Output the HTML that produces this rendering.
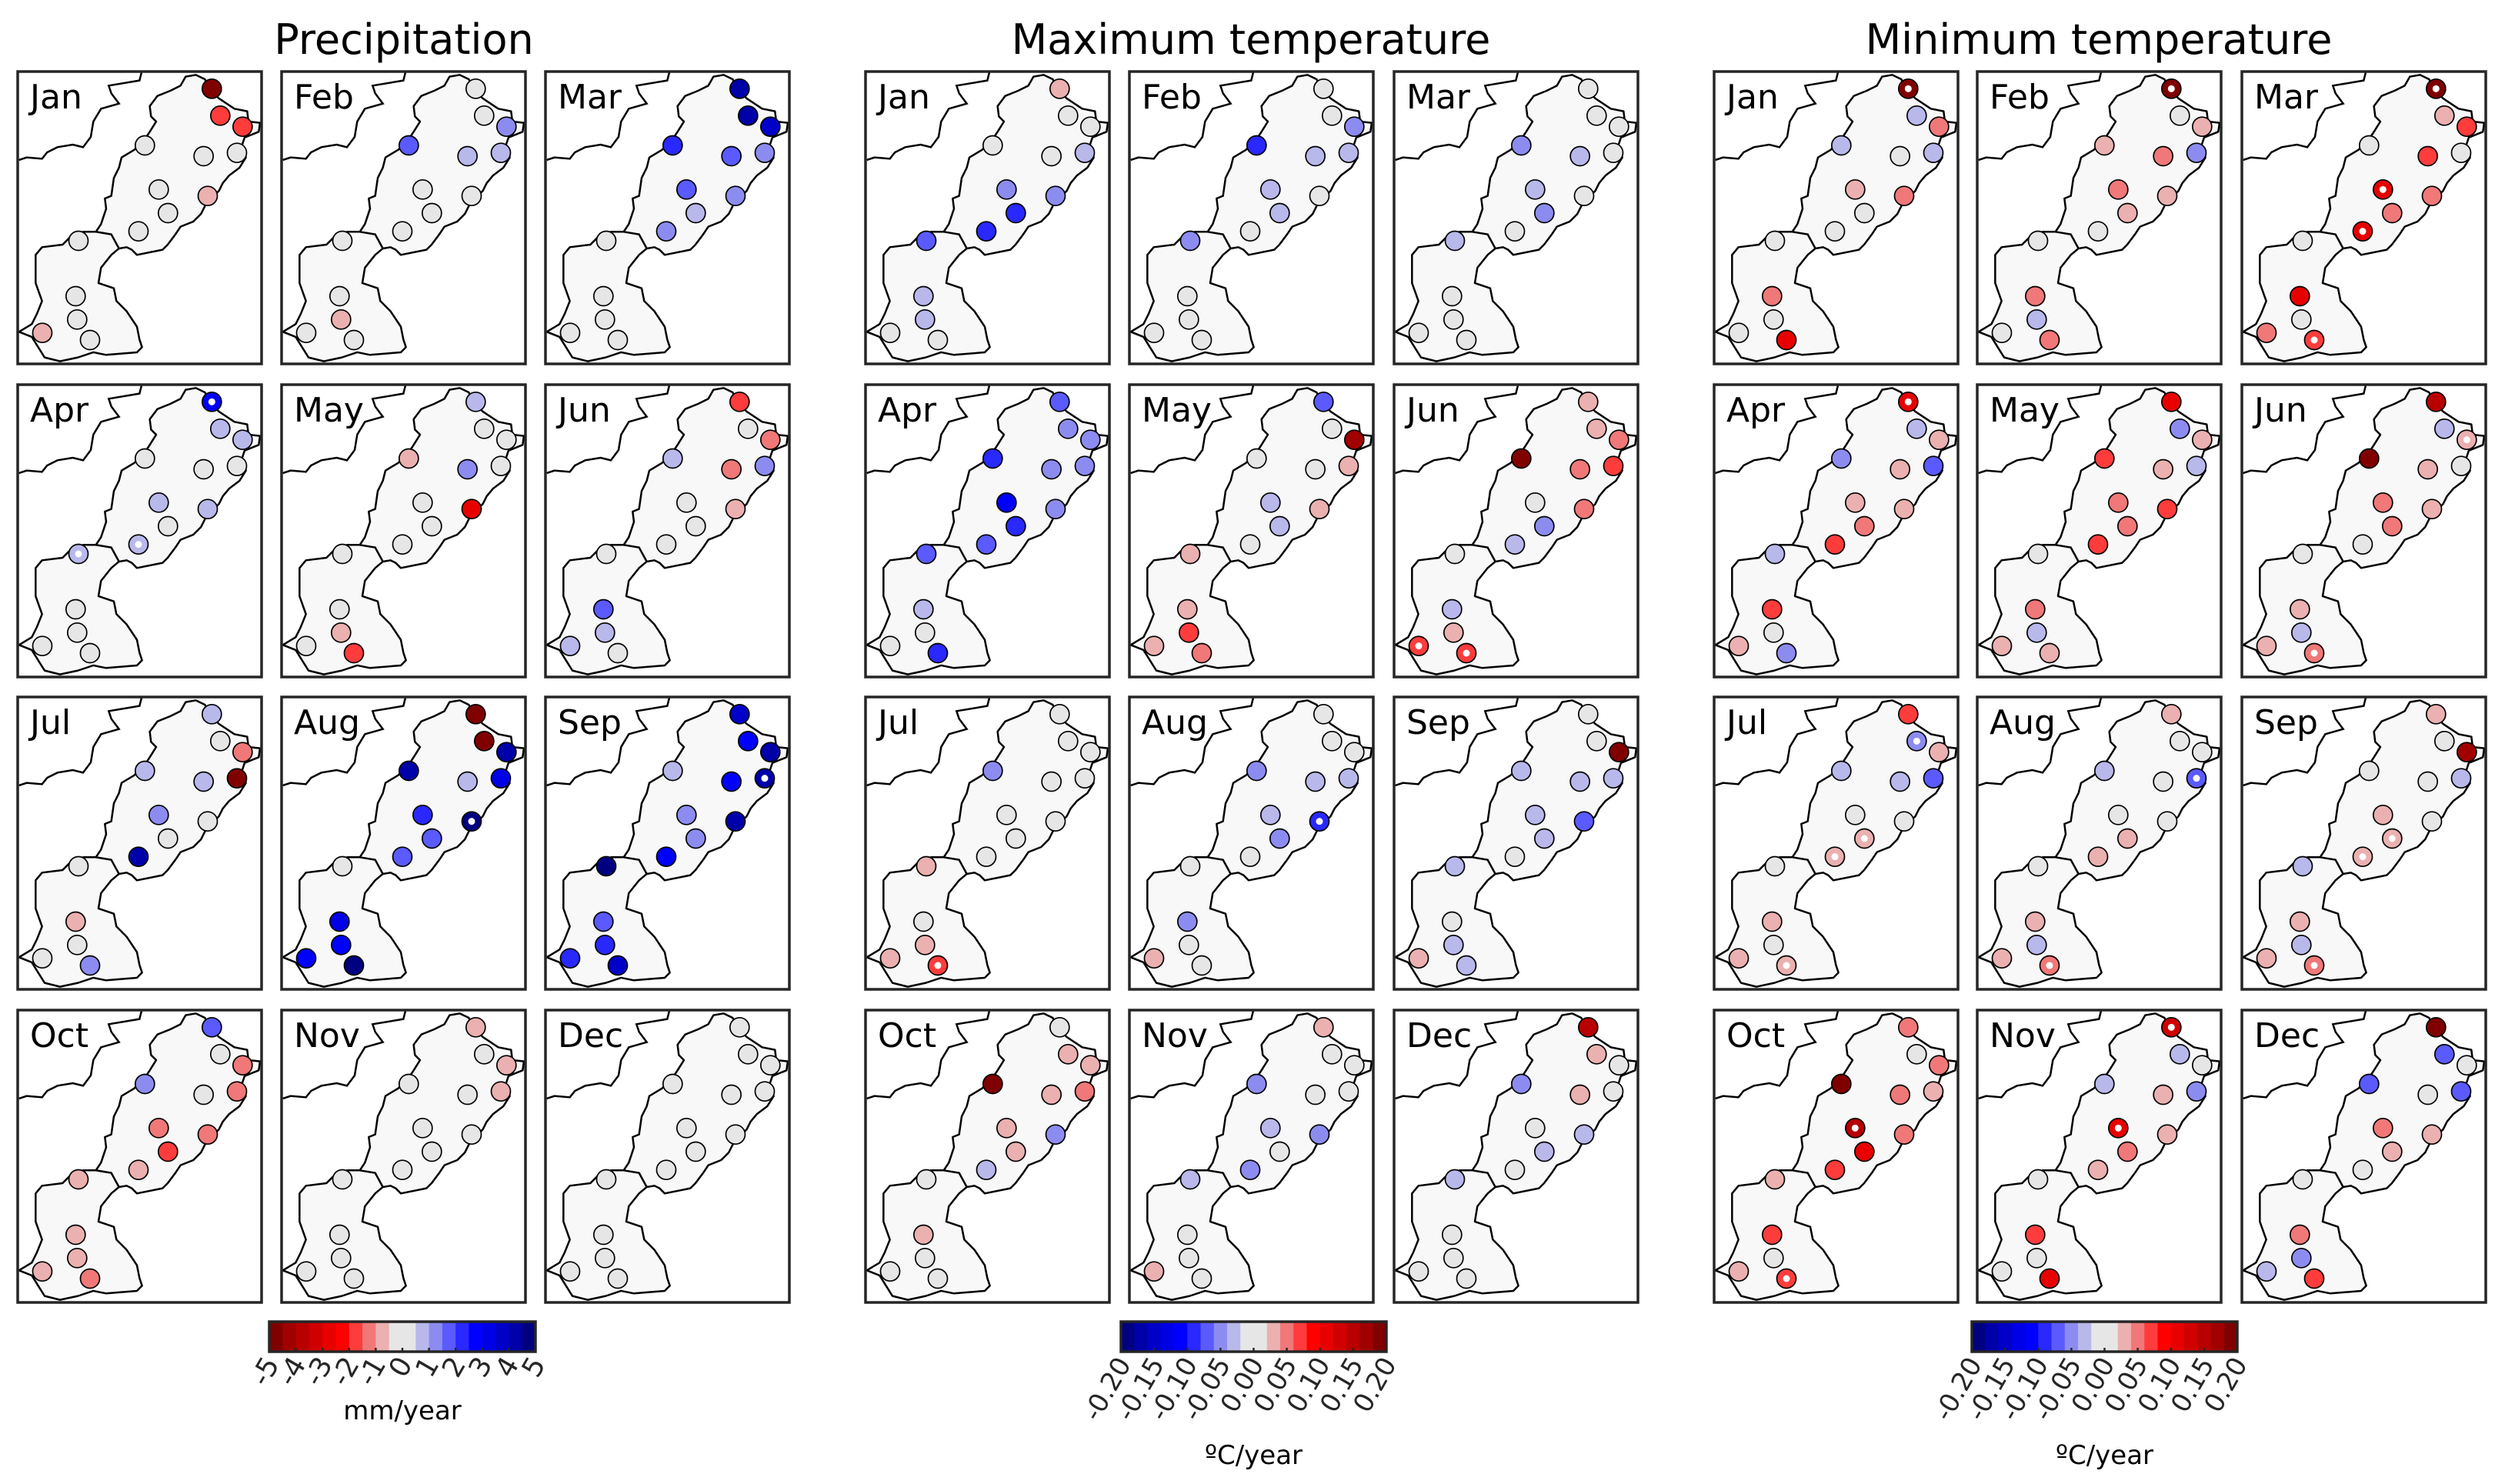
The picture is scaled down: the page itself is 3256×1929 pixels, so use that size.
<!DOCTYPE html>
<html><head><meta charset="utf-8">
<style>
html,body{margin:0;padding:0;background:#fff;}
svg{display:block;font-family:"DejaVu Sans","Liberation Sans",sans-serif;}
</style></head>
<body>
<svg id="fig" width="3256" height="1929" viewBox="0 0 3256 1929" xmlns="http://www.w3.org/2000/svg">
<defs>
<clipPath id="pclip"><rect x="0" y="0" width="317" height="380"/></clipPath>
</defs>
<g id="root"></g>
</svg>
<script>
// ---- data ----
const months = ['Jan','Feb','Mar','Apr','May','Jun','Jul','Aug','Sep','Oct','Nov','Dec'];
const variables = ['Precipitation','Maximum temperature','Minimum temperature'];
const precipTicks = ['-5','-4','-3','-2','-1','0','1','2','3','4','5'];
const precipTickValues = [-5,-4,-3,-2,-1,0,1,2,3,4,5];
const tempTicks = ['-0.20','-0.15','-0.10','-0.05','0.00','0.05','0.10','0.15','0.20'];
const tempTickValues = [-0.2,-0.15,-0.1,-0.05,0,0.05,0.1,0.15,0.2];

// station trend values (15 stations per month) - precipitation mm/year
const precipJan = [-4.75,-1.75,-1.75,0,0,0,0,-0.75,0,0,0,0,0,-0.75,0];
const precipFeb = [0,0,1.25,1.75,0.75,0.75,0,0,0,0,0,0,-0.75,0,0];
const precipMar = [4.25,4.25,3.75,2.25,1.75,1.25,1.75,1.25,0.75,1.25,0,0,0,0,0];
const precipApr = [2.75,0.75,0.75,0,0,0,0.75,0.75,0,0.75,0.75,0,0,0,0];
const precipMay = [0.75,0,0,-0.75,1.25,0,0,-2.75,0,0,0,0,-0.75,0,-1.75];
const precipJun = [-1.75,0,-1.25,0.75,-1.25,1.25,0,-0.75,0,0,0,1.75,0.75,0.75,0];
const precipJul = [0.75,0,-1.25,0.75,0.75,-4.75,1.25,0,0,4.25,0,-0.75,0,0,1.25];
const precipAug = [-4.75,-4.75,4.25,4.25,0.75,3.25,2.25,4.75,1.75,1.75,0,3.25,2.75,2.75,4.75];
const precipSep = [3.75,2.75,4.25,0.75,2.75,4.25,1.25,4.25,1.25,2.75,4.75,1.75,2.25,2.25,3.75];
const precipOct = [1.75,0,-1.25,1.25,0,-1.25,-1.25,-1.25,-1.75,-0.75,-0.75,-0.75,-0.75,-0.75,-1.25];
const precipNov = [-0.75,0,-0.75,0,0,-0.75,0,0,0,0,0,0,0,0,0];
const precipDec = [0,0,0,0,0,0,0,0,0,0,0,0,0,0,0];
const precipSig = [[],[],[],[0,9,10],[],[],[],[7],[5],[],[],[]];

// maximum temperature degC/year
const tmaxJan = [0.03,0,0,0,0,-0.03,-0.05,-0.05,-0.09,-0.09,-0.07,-0.03,-0.03,0,0];
const tmaxFeb = [0,0,-0.05,-0.09,-0.03,-0.03,-0.03,0,-0.03,0,-0.05,0,0,0,0];
const tmaxMar = [0,0,0,-0.05,-0.03,0,-0.03,0,-0.05,0,-0.03,0,0,0,0];
const tmaxApr = [-0.07,-0.05,-0.05,-0.09,-0.05,-0.05,-0.11,-0.05,-0.09,-0.07,-0.07,-0.03,0,0,-0.09];
const tmaxMay = [-0.07,0,0.17,0,0,0.03,-0.03,0.03,-0.03,0,0.03,0.03,0.07,0.03,0.05];
const tmaxJun = [0.03,0.03,0.05,0.19,0.05,0.07,0,0.05,-0.05,-0.03,0,-0.03,0.03,0.07,0.07];
const tmaxJul = [0,0,0,-0.05,0,0,0,0,0,0,0.03,0,0.03,0.03,0.07];
const tmaxAug = [0,0,0,-0.05,-0.03,-0.03,-0.03,-0.09,-0.05,0,0,-0.05,0,0.03,0];
const tmaxSep = [0,0,0.19,-0.03,-0.03,-0.03,-0.03,-0.07,-0.03,0,-0.03,0,-0.03,0.03,-0.03];
const tmaxOct = [0,0.03,0.03,0.19,0.03,0.05,0.03,-0.05,0.03,-0.03,0,0.03,0,0,0];
const tmaxNov = [0.03,0,0,-0.05,0,0,-0.03,-0.05,0,-0.05,-0.03,0,0,0.03,0];
const tmaxDec = [0.15,0.03,0,-0.05,0.03,0,0,-0.03,-0.03,0,-0.03,0,0,0,0];
const tmaxSig = [[],[],[],[],[],[13,14],[14],[7],[],[],[],[]];

// minimum temperature degC/year
const tminJan = [0.19,-0.03,0.05,-0.03,0,-0.03,0.03,0.05,0,0,0,0.05,0,0,0.11];
const tminFeb = [0.19,0,0.03,0.03,0.05,-0.05,0.05,0.03,0.03,0,0,0.05,-0.03,0,0.05];
const tminMar = [0.19,0.03,0.07,0,0.07,0,0.11,0.05,0.05,0.11,0,0.11,0,0.05,0.07];
const tminApr = [0.11,-0.03,0.03,-0.05,0.03,-0.07,0.03,0.03,0.05,0.07,-0.03,0.07,0,0.03,-0.05];
const tminMay = [0.11,-0.05,0.03,0.07,0.03,-0.03,0.05,0.07,0.05,0.07,0,0.05,-0.03,0.03,0.03];
const tminJun = [0.15,-0.03,0.03,0.19,0.03,0,0.05,0.03,0.05,0,0,0.03,-0.03,0.03,0.05];
const tminJul = [0.07,-0.05,0.03,-0.03,-0.03,-0.07,0,0,0.03,0.03,0,0.03,0,0.03,0.03];
const tminAug = [0.03,0,0,-0.03,0,-0.07,0,0,0.03,0.03,0,0.03,-0.03,0.03,0.05];
const tminSep = [0.03,0,0.17,0,0,-0.03,0.03,0,0.03,0.03,-0.03,0.03,-0.03,0.03,0.05];
const tminOct = [0.05,0,0.05,0.19,0.05,0.03,0.15,0.05,0.11,0.07,0.03,0.07,0,0.03,0.07];
const tminNov = [0.13,-0.03,0,-0.03,0.03,-0.05,0.11,0.03,0.05,0.03,0,0.07,0,0,0.11];
const tminDec = [0.19,-0.07,0,-0.07,0,-0.07,0.05,0.03,0.03,0,0,0.05,-0.05,-0.03,0.07];
const tminSig = [[0],[0],[0,6,9,14],[0],[],[2,14],[1,8,9,14],[5,14],[8,9,14],[6,14],[0,6],[]];

const precipAll = [precipJan,precipFeb,precipMar,precipApr,precipMay,precipJun,precipJul,precipAug,precipSep,precipOct,precipNov,precipDec];
const tmaxAll = [tmaxJan,tmaxFeb,tmaxMar,tmaxApr,tmaxMay,tmaxJun,tmaxJul,tmaxAug,tmaxSep,tmaxOct,tmaxNov,tmaxDec];
const tminAll = [tminJan,tminFeb,tminMar,tminApr,tminMay,tminJun,tminJul,tminAug,tminSep,tminOct,tminNov,tminDec];

// ---- geometry (map coords, panel-local, 3x units) ----
const stationXY = [[762,72],[795,177],[882,220],[501,293],[730,335],[860,322],[555,465],[746,490],[591,557],[476,628],[242,665],[231,881],[237,972],[101,1024],[287,1052]];
const provincePath = "M660,25 L700,18 L735,35 L760,80 L790,110 L850,150 L900,160 L905,200 L950,205 L945,240 L890,262 L880,292 L895,340 L870,380 L830,410 L805,440 L790,470 L740,520 L720,560 L690,590 L640,610 L620,640 L590,680 L570,700 L470,720 L450,700 L430,690 L400,695 L370,720 L330,770 L320,830 L380,850 L390,900 L430,940 L470,1000 L480,1050 L490,1080 L470,1100 L350,1110 L300,1100 L240,1120 L170,1135 L110,1120 L85,1080 L60,1040 L10,1020 L60,990 L80,950 L100,900 L75,830 L75,720 L100,690 L180,680 L210,650 L260,630 L310,630 L330,600 L350,540 L345,500 L370,490 L380,420 L400,380 L410,340 L460,310 L500,270 L520,240 L545,200 L525,180 L520,140 L550,100 L600,80 L640,60 Z";
const borderPath = "M10,350 L40,340 L100,345 L120,320 L160,300 L220,290 L260,300 L290,260 L300,200 L330,150 L400,130 L370,90 L360,60 L480,40 L490,0";
const divPath = "M310,630 L370,640 L400,695";

const precipColors = ['#800000','#a00000','#b80000','#d00000','#e80000','#ff0000','#ff3c3c','#f07878','#ebb0b0','#e6e6e6','#e6e6e6','#b8b8eb','#8c8cf0','#5a5aff','#2828ff','#0000ff','#0000e6','#0000c8','#0000a8','#000080'];
const tempColors = precipColors.slice().reverse();

function precipColor(v){let i=Math.floor((v+5)/0.5);i=Math.max(0,Math.min(19,i));return precipColors[i];}
function tempColor(v){let i=Math.floor((v+0.2)/0.02+1e-9);i=Math.max(0,Math.min(19,i));return tempColors[i];}

const NS='http://www.w3.org/2000/svg';
const root=document.getElementById('root');
function mk(tag,attrs,parent){const e=document.createElementNS(NS,tag);for(const k in attrs)e.setAttribute(k,attrs[k]);(parent||root).appendChild(e);return e;}

const groupX=[[23,366,709],[1125,1468,1812],[2228,2570,2914]];
const rowY=[93,500,906,1313];
const PW=317, PH=380;
const titleX=[525,1626,2728];
const dataSets=[precipAll,tmaxAll,tminAll];
const sigSets=[precipSig,tmaxSig,tminSig];
const colorFns=[precipColor,tempColor,tempColor];

for(let g=0;g<3;g++){
  const t=mk('text',{x:titleX[g],y:70,'text-anchor':'middle','font-size':54,fill:'#000'});
  t.textContent=variables[g];
  
  
  for(let m=0;m<12;m++){
    const r=Math.floor(m/3), c=m%3;
    const px=groupX[g][c], py=rowY[r];
    const pg=mk('g',{transform:`translate(${px},${py})`});
    
    
    const inner=mk('g',{'clip-path':'url(#pclip)'},pg);
    const mg=mk('g',{transform:'translate(-1.67,-1.67) scale(0.3333)'},inner);
    const prov=mk('path',{d:provincePath,fill:'#f8f8f8',stroke:'#000','stroke-width':7.5,'stroke-linejoin':'round'},mg);
    
    
    const bd=mk('path',{d:borderPath,fill:'none',stroke:'#000','stroke-width':7.5},mg);
    
    
    mk('path',{d:divPath,fill:'none',stroke:'#000','stroke-width':7.5},mg);
    const vals=dataSets[g][m];
    const sig=sigSets[g][m];
    for(let s=0;s<stationXY.length;s++){
      const cx=stationXY[s][0]/3-1.67, cy=stationXY[s][1]/3-1.67;
      const ci=mk('circle',{cx:cx,cy:cy,r:12.5,fill:colorFns[g](vals[s]),stroke:'#000','stroke-width':1.7},pg);
      
      
      if(sig.indexOf(s)>=0){
        const w=mk('circle',{cx:cx,cy:cy,r:4.5,fill:'#fff'},pg);
        
        
      }
    }
    mk('rect',{x:0,y:0,width:PW,height:PH,fill:'none',stroke:'#262626','stroke-width':3.5},pg);
    const lb=mk('text',{x:16,y:48,'font-size':44,fill:'#000'},pg);
    lb.textContent=months[m];
    
    
  }
}

// ---- colorbars ----
function colorbar(x0,x1,colors,vmin,vmax,ticks,tickVals,unit,unitY,name,fs){
  const y0=1718,y1=1757;
  const cg=mk('g',{});
  
  
  const w=(x1-x0)/colors.length;
  for(let i=0;i<colors.length;i++) mk('rect',{x:x0+i*w,y:y0,width:w+0.6,height:y1-y0,fill:colors[i]},cg);
  mk('rect',{x:x0,y:y0,width:x1-x0,height:y1-y0,fill:'none',stroke:'#262626','stroke-width':3.5},cg);
  const sx=v=>x0+(v-vmin)/(vmax-vmin)*(x1-x0);
  for(let i=0;i<tickVals.length;i++){
    const tx=sx(tickVals[i]);
    mk('line',{x1:tx,y1:y1,x2:tx,y2:y1-5,stroke:'#262626','stroke-width':2.5},cg);
    const tt=mk('text',{x:0,y:0,'font-size':fs,fill:'#262626','text-anchor':'end',transform:`translate(${tx+14},${y1+16}) rotate(-60)`},cg);
    tt.textContent=ticks[i];
    
    
  }
  const ul=mk('text',{x:(x0+x1)/2,y:unitY,'text-anchor':'middle','font-size':34,fill:'#000'},cg);
  ul.textContent=unit;
  
  
}
colorbar(350,696,precipColors,-5,5,precipTicks,precipTickValues,'mm/year',1845,'precip-colorbar',36);
colorbar(1457,1802,tempColors,-0.2,0.2,tempTicks,tempTickValues,'\u00BAC/year',1903,'tmax-colorbar',34);
colorbar(2563,2908,tempColors,-0.2,0.2,tempTicks,tempTickValues,'\u00BAC/year',1903,'tmin-colorbar',34);
</script>
</body></html>
